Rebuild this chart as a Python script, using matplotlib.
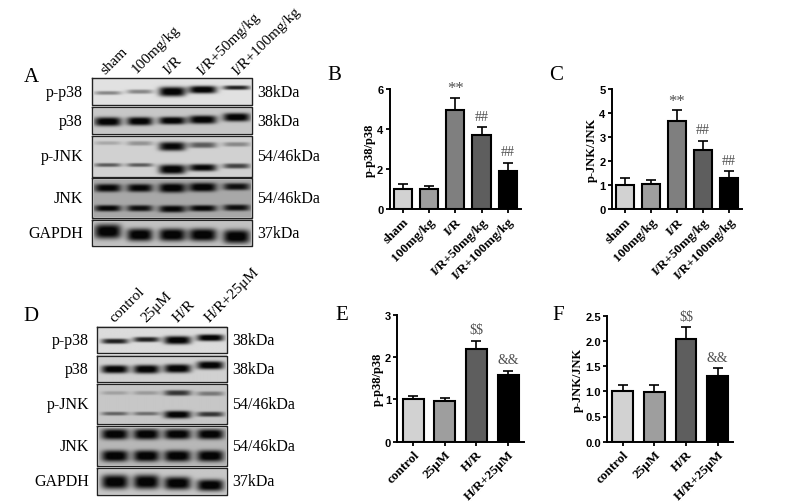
#!/usr/bin/env python3
import numpy as np
import matplotlib
matplotlib.use("Agg")
import matplotlib.pyplot as plt

plt.rcParams['font.family'] = ['Liberation Serif', 'DejaVu Serif']

W, H = 800, 502

# === bar data ===
groups_in_vivo = ["sham", "100mg/kg", "I/R", "I/R+50mg/kg", "I/R+100mg/kg"]
groups_in_vitro = ["control", "25μM", "H/R", "H/R+25μM"]

b_mean = [1.0, 1.02, 4.97, 3.72, 1.92]
b_err = [0.27, 0.13, 0.61, 0.38, 0.41]
c_mean = [1.0, 1.05, 3.68, 2.48, 1.30]
c_err = [0.30, 0.15, 0.44, 0.38, 0.30]
e_mean = [1.0, 0.97, 2.20, 1.57]
e_err = [0.09, 0.07, 0.19, 0.11]
f_mean = [1.0, 0.99, 2.03, 1.30]
f_err = [0.13, 0.13, 0.25, 0.16]

b_marks = ["", "", "**", "##", "##"]
c_marks = ["", "", "**", "##", "##"]
e_marks = ["", "", "$$", "&&"]
f_marks = ["", "", "$$", "&&"]

row_names = ["p-p38", "p38", "p-JNK", "JNK", "GAPDH"]
row_sizes = ["38kDa", "38kDa", "54/46kDa", "54/46kDa", "37kDa"]

# band darkness per lane, read from the blots
a_ppp38 = [0.45, 0.45, 1.0, 1.0, 0.85]
a_p38 = [1.0, 1.0, 1.0, 1.0, 1.0]
a_pjnk_up = [0.25, 0.35, 0.95, 0.60, 0.40]
a_pjnk_lo = [0.60, 0.60, 1.0, 0.95, 0.70]
a_jnk_up = [0.95, 0.95, 1.0, 1.0, 0.90]
a_jnk_lo = [0.95, 0.90, 0.95, 0.95, 0.90]
a_gapdh = [1.0, 1.0, 1.0, 1.0, 1.0]

d_ppp38 = [0.85, 0.85, 1.0, 1.0]
d_p38 = [1.0, 1.0, 1.0, 1.0]
d_pjnk_up = [0.25, 0.28, 0.75, 0.45]
d_pjnk_lo = [0.55, 0.50, 1.0, 0.75]
d_jnk_up = [1.0, 1.0, 1.0, 1.0]
d_jnk_lo = [1.0, 1.0, 1.0, 1.0]
d_gapdh = [1.0, 1.0, 1.0, 1.0]

# === layout (pixels of the picture) ===
A_X = (91.7, 252.3)
A_LANES = [107.3, 139.3, 171.7, 202.3, 236]
A_HALF = [14, 13.5, 14, 14.5, 14]
A_ROWS = [(79.3, 106), (108.3, 135), (137.3, 177.7), (179.3, 219), (221, 247)]
A_BG = [0.88, 0.78, 0.82, 0.66, 0.76]
A_BANDS = [
    [(a_ppp38, [94, 92.7, 92.7, 90.7, 88.7], [1.5, 1.7, 3.8, 3.0, 1.7])],
    [(a_p38, [122.7, 122.3, 121.7, 120.7, 118.3], [3.5, 3.3, 3, 3.3, 3.3])],
    [(a_pjnk_up, [144, 144.3, 147.3, 146, 145.3], [1.5, 1.8, 3.5, 2.3, 1.8]),
     (a_pjnk_lo, [165.7, 165.7, 170, 168.3, 166.7], [1.5, 1.5, 3.7, 2.8, 2.0])],
    [(a_jnk_up, [189, 189, 189, 188.3, 187.7], [3.2, 3.2, 3.7, 3.5, 2.8]),
     (a_jnk_lo, [209.3, 209.3, 210, 209.3, 208.7], [2.5, 2.5, 2.8, 2.5, 2.5])],
    [(a_gapdh, [232.7, 236, 236, 236, 237.7], [5.5, 4.8, 4.8, 4.8, 5.2])],
]

D_X = (97.3, 226.7)
D_LANES = [115, 146.3, 177.3, 210]
D_HALF = [14, 13.5, 14, 14]
D_ROWS = [(328, 354.3), (356.7, 383.3), (385.3, 425), (427, 467), (469.3, 495.7)]
D_BG = [0.86, 0.82, 0.78, 0.72, 0.78]
D_BANDS = [
    [(d_ppp38, [342.7, 341, 341.7, 339.3], [2, 2, 3.2, 2.6])],
    [(d_p38, [370.7, 370.7, 370, 366.7], [3.2, 3.4, 3.4, 3.2])],
    [(d_pjnk_up, [394, 394, 394, 394.7], [1.5, 1.6, 2.2, 1.8]),
     (d_pjnk_lo, [414.7, 414.7, 415.7, 415.3], [1.5, 1.5, 3, 2.0])],
    [(d_jnk_up, [435, 435, 435, 435], [4.2, 4.2, 4, 4]),
     (d_jnk_lo, [456.7, 456.7, 456.7, 456.7], [4.5, 4.5, 4.5, 4.5])],
    [(d_gapdh, [482.7, 482.7, 484, 486], [5.5, 5.5, 5, 4.5])],
]

GREYS_5 = ["#d2d2d2", "#9e9e9e", "#7f7f7f", "#5e5e5e", "#000000"]
GREYS_4 = ["#d2d2d2", "#9e9e9e", "#5e5e5e", "#000000"]

TEXT_SIZE = 11.5
LANE_SIZE = 11


def strip_image(x0, x1, y0, y1, bg, bands, lanes, half):
    xs, ys = np.meshgrid(np.arange(x0, x1, 0.5), np.arange(y0, y1, 0.5))
    dark = np.zeros_like(xs)
    for vals, cys, hts in bands:
        for v, cx, hw, cy, ht in zip(vals, lanes, half, cys, hts):
            dark += v * np.exp(-(np.abs(xs - cx) / hw) ** 4) * np.exp(-(np.abs(ys - cy) / (ht * 1.35)) ** 3)
    img = bg * (1 - np.clip(dark, 0, 1) ** 1.2 * 1.05)
    return np.clip(img, 0.02, 1)


def draw_blot(ov, xr, rows, bgs, bands, lanes, half, size_x, name_x, names, sizes):
    for i, (y0, y1) in enumerate(rows):
        img = strip_image(xr[0], xr[1], y0, y1, bgs[i], bands[i], lanes, half)
        ov.imshow(img, cmap="gray", vmin=0, vmax=1, extent=(xr[0], xr[1], y1, y0),
                  aspect="auto", interpolation="bilinear", zorder=1)
        ov.plot([xr[0] + 1, xr[1] - 1, xr[1] - 1, xr[0] + 1, xr[0] + 1],
                [y0 + 1, y0 + 1, y1 - 1, y1 - 1, y0 + 1], color="#e4e4e4", lw=0.6, zorder=2)
        ov.plot([xr[0], xr[1], xr[1], xr[0], xr[0]], [y0, y0, y1, y1, y0],
                color="#222222", lw=1.0, zorder=2)
        ym = (y0 + y1) / 2
        ov.text(name_x, ym, names[i], ha="right", va="center", fontsize=TEXT_SIZE)
        ov.text(size_x, ym, sizes[i], ha="left", va="center", fontsize=TEXT_SIZE)


def draw_bars(box, yticks, fmt, labels, means, errs, marks, colors, ylabel, width, lab_x):
    l, t, r, b = box
    ax = fig.add_axes([l / W, 1 - b / H, (r - l) / W, (b - t) / H])
    x = np.arange(len(labels))
    ax.bar(x, means, width=width, color=colors, edgecolor="black", linewidth=1.5, zorder=2)
    ax.errorbar(x, means, yerr=[np.zeros(len(errs)), errs], fmt="none", ecolor="black",
                elinewidth=1.2, capsize=3.5, capthick=1.2, zorder=1)
    ax.set_xlim(-0.5, len(labels) - 0.5)
    ax.set_ylim(yticks[0], yticks[-1])
    ax.set_xticks(x)
    ax.set_xticklabels(labels, rotation=45, ha="right", rotation_mode="anchor",
                       fontsize=9.5, fontweight="bold")
    ax.set_yticks(yticks)
    ax.set_yticklabels([fmt % v for v in yticks], fontsize=8, fontweight="bold",
                       family=["Liberation Sans"])
    ax.tick_params(width=1.3, length=3, pad=1.5)
    for s in ["top", "right"]:
        ax.spines[s].set_visible(False)
    for s in ["left", "bottom"]:
        ax.spines[s].set_linewidth(1.4)
    ax.set_ylabel(ylabel, fontsize=9, fontweight="bold")
    ax.yaxis.set_label_coords(lab_x, 0.5)
    ax.patch.set_alpha(0)
    for xi, m, e, s in zip(x, means, errs, marks):
        if s:
            star = s.startswith("*")
            ax.annotate(s, (xi, m + e), xytext=(0, 1 if star else 3), textcoords="offset points",
                        ha="center", va="bottom", fontsize=12 if star else 10, color="#505050",
                        annotation_clip=False, parse_math=False)


fig = plt.figure(figsize=(W / 100, H / 100), dpi=100)
ov = fig.add_axes([0, 0, 1, 1])
ov.set_xlim(0, W)
ov.set_ylim(H, 0)
ov.axis("off")

draw_blot(ov, A_X, A_ROWS, A_BG, A_BANDS, A_LANES, A_HALF, 257, 83, row_names, row_sizes)
draw_blot(ov, D_X, D_ROWS, D_BG, D_BANDS, D_LANES, D_HALF, 232, 89, row_names, row_sizes)

# imshow resets the limits
ov.set_xlim(0, W)
ov.set_ylim(H, 0)

for lx, ly, s in zip([107, 139, 171, 204, 239], [77, 76, 77, 78, 78], groups_in_vivo):
    ov.text(lx, ly, s, rotation=45, ha="left", va="bottom", rotation_mode="anchor", fontsize=LANE_SIZE)
for lx, ly, s in zip([116, 148, 180, 212], [325, 325, 325, 325], groups_in_vitro):
    ov.text(lx, ly, s, rotation=45, ha="left", va="bottom", rotation_mode="anchor", fontsize=LANE_SIZE)

for s, px, py in zip("ABCDEF", [31, 334, 555.7, 31, 341.7, 557.7], [77, 76, 76, 317, 316, 316]):
    ov.text(px, py, s, ha="center", va="center", fontsize=15)

draw_bars((389.5, 90.3, 521, 210), [0, 2, 4, 6], "%d", groups_in_vivo, b_mean, b_err,
          b_marks, GREYS_5, "p-p38/p38", 0.69, -0.105)
draw_bars((611.7, 90.3, 742.3, 210), [0, 1, 2, 3, 4, 5], "%d", groups_in_vivo, c_mean, c_err,
          c_marks, GREYS_5, "p-JNK/JNK", 0.69, -0.105)
draw_bars((397.3, 315.7, 524, 442.7), [0, 1, 2, 3], "%d", groups_in_vitro, e_mean, e_err,
          e_marks, GREYS_4, "p-p38/p38", 0.66, -0.105)
draw_bars((607, 316.7, 733.3, 442.7), [0, 0.5, 1.0, 1.5, 2.0, 2.5], "%.1f", groups_in_vitro,
          f_mean, f_err, f_marks, GREYS_4, "p-JNK/JNK", 0.66, -0.185)

fig.savefig("out.png", dpi=100)
